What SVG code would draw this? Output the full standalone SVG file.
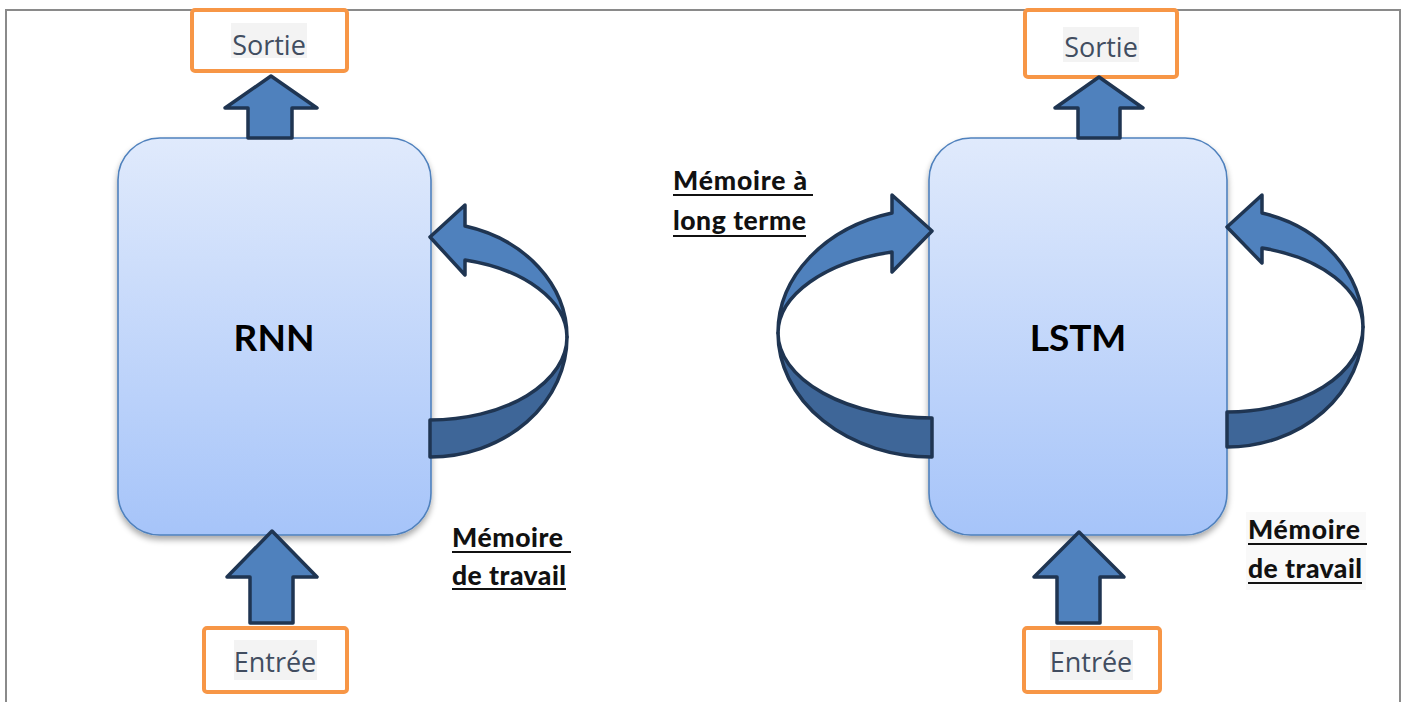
<svg xmlns="http://www.w3.org/2000/svg" width="1408" height="702" viewBox="0 0 1408 702">
  <defs>
    <linearGradient id="cellFill" x1="0" y1="0" x2="0" y2="1">
      <stop offset="0" stop-color="#e0eafc"/>
      <stop offset="1" stop-color="#a6c4f9"/>
    </linearGradient>
    <filter id="shadow" x="-10%" y="-10%" width="125%" height="125%">
      <feGaussianBlur in="SourceAlpha" stdDeviation="3"/>
      <feOffset dx="0" dy="4" result="blur"/>
      <feComponentTransfer><feFuncA type="linear" slope="0.35"/></feComponentTransfer>
      <feMerge><feMergeNode/><feMergeNode in="SourceGraphic"/></feMerge>
    </filter>
    <style>
      .frame { fill: none; stroke: #8a8a8a; stroke-width: 2; }
      .cell { fill: url(#cellFill); stroke: #4f81bd; stroke-width: 1.6; }
      .io { fill: #ffffff; stroke: #f79646; stroke-width: 4; }
      .hl { fill: #f3f3f3; }
      .io-text { font-family: "Open Sans", "Noto Sans", sans-serif; font-size: 27px; fill: #414d60; text-anchor: middle; }
      .cell-text { font-family: Lato, "Liberation Sans", sans-serif; font-weight: bold; font-size: 37px; fill: #000; text-anchor: middle; }
      .label { font-family: Lato, "Liberation Sans", sans-serif; font-weight: 900; font-size: 26.5px; fill: #111; }
      .uline { stroke: #111; stroke-width: 2; }
      .arrow { fill: #4f81bd; stroke: #1f3552; stroke-width: 3.5; stroke-linejoin: round; }
      .arrow-back { fill: #3e6698; stroke: #1f3552; stroke-width: 3.5; stroke-linejoin: round; }
    </style>
  </defs>

  <rect width="1408" height="702" fill="#ffffff"/>
  <!-- page frame -->
  <rect class="frame" x="6" y="10" width="1394" height="720"/>

  <!-- RNN cell -->
  <g id="rnn">
    <rect class="cell" x="118" y="138" width="313" height="397" rx="42" filter="url(#shadow)"/>
    <text class="cell-text" x="274" y="351">RNN</text>
  </g>

  <!-- LSTM cell -->
  <g id="lstm">
    <rect class="cell" x="929" y="138" width="298" height="397" rx="42" filter="url(#shadow)"/>
    <text class="cell-text" x="1078" y="351">LSTM</text>
  </g>

  <!-- inputs / outputs -->
  <g id="rnn-out">
    <rect class="io" x="192" y="10" width="155" height="61" rx="3"/>
    <rect class="hl" x="231" y="23" width="76" height="35"/>
    <text class="io-text" x="269" y="55">Sortie</text>
  </g>
  <g id="rnn-in">
    <rect class="io" x="204" y="628" width="143" height="64" rx="3"/>
    <rect class="hl" x="234" y="640" width="83" height="40"/>
    <text class="io-text" x="275" y="672">Entrée</text>
  </g>
  <g id="lstm-out">
    <rect class="io" x="1025" y="10" width="152" height="67" rx="3"/>
    <rect class="hl" x="1063" y="27" width="76" height="35"/>
    <text class="io-text" x="1101" y="57">Sortie</text>
  </g>
  <g id="lstm-in">
    <rect class="io" x="1024" y="628" width="136" height="64" rx="3"/>
    <rect class="hl" x="1050" y="640" width="83" height="40"/>
    <text class="io-text" x="1091" y="672">Entrée</text>
  </g>

  <!-- labels -->
  <g id="rnn-label">
    <text class="label" x="452" y="547" textLength="111">Mémoire</text>
    <line class="uline" x1="452" y1="552" x2="571" y2="552"/>
    <text class="label" x="452" y="585" textLength="114">de travail</text>
    <line class="uline" x1="452" y1="589" x2="566" y2="589"/>
  </g>
  <g id="lstm-long-label">
    <text class="label" x="673" y="190" textLength="134">Mémoire à</text>
    <line class="uline" x1="673" y1="195" x2="813" y2="195"/>
    <text class="label" x="673" y="230" textLength="133">long terme</text>
    <line class="uline" x1="673" y1="236" x2="806" y2="236"/>
  </g>
  <g id="lstm-work-label">
    <rect x="1246" y="512" width="120" height="78" fill="#f9f9f9"/>
    <text class="label" x="1248" y="539" textLength="112">Mémoire</text>
    <line class="uline" x1="1248" y1="544" x2="1367" y2="544"/>
    <text class="label" x="1248" y="578" textLength="114">de travail</text>
    <line class="uline" x1="1248" y1="583" x2="1362" y2="583"/>
  </g>

  <!-- connectors -->
  <g id="connectors">
    <!-- straight block arrows -->
    <path class="arrow" d="M248 138 L248 108 L225 108 L271 76 L317 108 L292 108 L292 138 Z"/>
    <path class="arrow" d="M250 623 L250 577 L227 577 L272 531 L317 577 L293 577 L293 623 Z"/>
    <path class="arrow" d="M1078 138 L1078 108 L1055 108 L1099 77 L1143 108 L1120 108 L1120 138 Z"/>
    <path class="arrow" d="M1057 623 L1057 577 L1034 577 L1079 532 L1124 577 L1100 577 L1100 623 Z"/>

    <!-- RNN working-memory loop -->
    <path class="arrow-back" d="M567 337 A137 120 0 0 1 430 457 L430 420 A137 83 0 0 0 567 337 Z"/>
    <path class="arrow" d="M567 337 A137 115 0 0 0 465 226 L465 205 L430 237 L465 275 L465 260 A137 80 0 0 1 567 337 Z"/>

    <!-- LSTM long-term loop (left) -->
    <path class="arrow-back" d="M778 333 A154 124 0 0 0 932 457 L932 418 A154 85 0 0 1 778 333 Z"/>
    <path class="arrow" d="M778 333 A154 124 0 0 1 892 213 L892 195 L932 231 L892 272 L892 252 A154 84 0 0 0 778 333 Z"/>

    <!-- LSTM working-memory loop (right) -->
    <path class="arrow-back" d="M1363 327 A136 120 0 0 1 1227 447 L1227 412 A136 85 0 0 0 1363 327 Z"/>
    <path class="arrow" d="M1363 327 A136 118 0 0 0 1262 213 L1262 195 L1227 227 L1262 263 L1262 248 A136 82 0 0 1 1363 327 Z"/>
  </g>
</svg>
